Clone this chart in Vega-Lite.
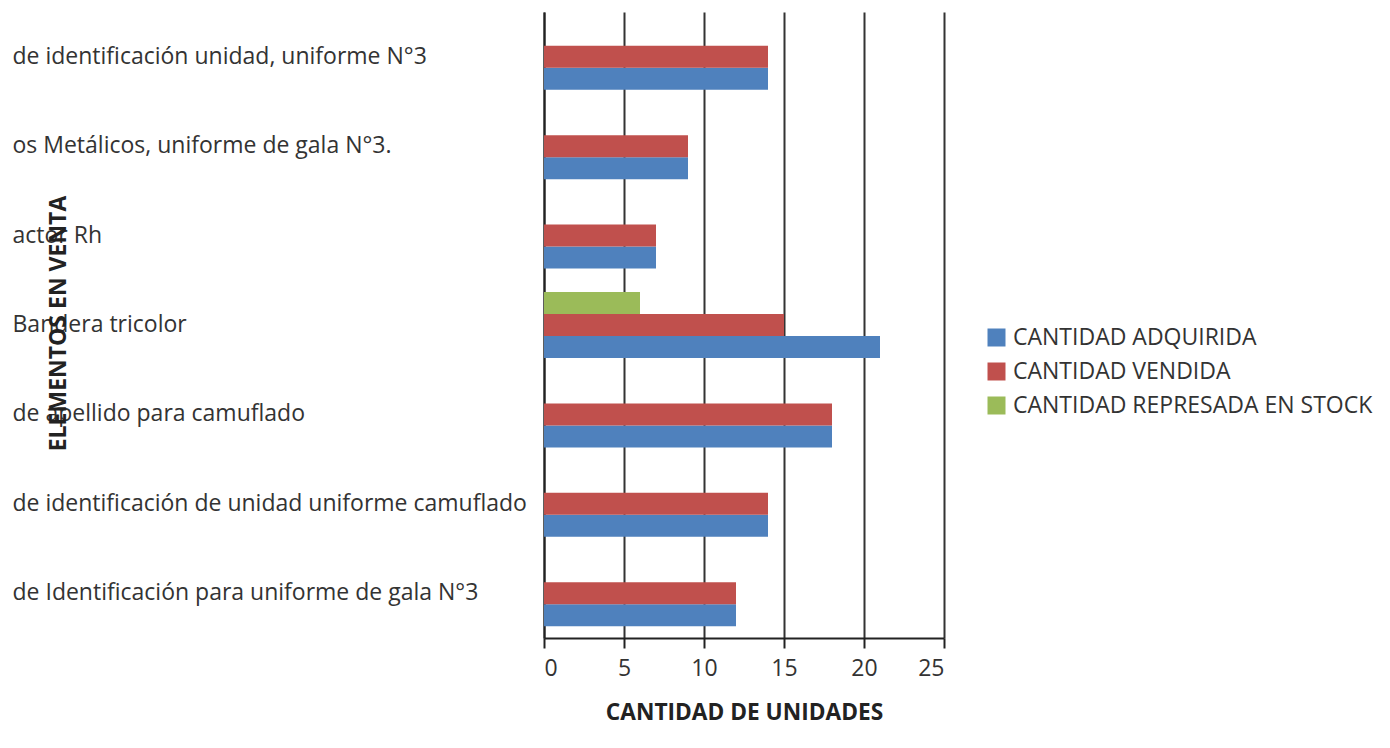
{
  "$schema": "https://vega.github.io/schema/vega-lite/v6.json",
  "width": 400,
  "height": 626,
  "autosize": {"type": "none"},
  "padding": {"left": 544, "top": 12, "right": 446, "bottom": 110},
  "background": "white",
  "config": {"view": {"stroke": null}, "font": "Open Sans"},
  "data": {
    "values": [
      {"elemento": "de identificación unidad, uniforme N°3", "serie": "CANTIDAD ADQUIRIDA", "cantidad": 14},
      {"elemento": "de identificación unidad, uniforme N°3", "serie": "CANTIDAD VENDIDA", "cantidad": 14},
      {"elemento": "os Metálicos, uniforme de gala N°3.", "serie": "CANTIDAD ADQUIRIDA", "cantidad": 9},
      {"elemento": "os Metálicos, uniforme de gala N°3.", "serie": "CANTIDAD VENDIDA", "cantidad": 9},
      {"elemento": "actor Rh", "serie": "CANTIDAD ADQUIRIDA", "cantidad": 7},
      {"elemento": "actor Rh", "serie": "CANTIDAD VENDIDA", "cantidad": 7},
      {"elemento": "Bandera tricolor", "serie": "CANTIDAD ADQUIRIDA", "cantidad": 21},
      {"elemento": "Bandera tricolor", "serie": "CANTIDAD VENDIDA", "cantidad": 15},
      {"elemento": "Bandera tricolor", "serie": "CANTIDAD REPRESADA EN STOCK", "cantidad": 6},
      {"elemento": "de apellido para camuflado", "serie": "CANTIDAD ADQUIRIDA", "cantidad": 18},
      {"elemento": "de apellido para camuflado", "serie": "CANTIDAD VENDIDA", "cantidad": 18},
      {"elemento": "de identificación de unidad uniforme camuflado", "serie": "CANTIDAD ADQUIRIDA", "cantidad": 14},
      {"elemento": "de identificación de unidad uniforme camuflado", "serie": "CANTIDAD VENDIDA", "cantidad": 14},
      {"elemento": "de Identificación para uniforme de gala N°3", "serie": "CANTIDAD ADQUIRIDA", "cantidad": 12},
      {"elemento": "de Identificación para uniforme de gala N°3", "serie": "CANTIDAD VENDIDA", "cantidad": 12}
    ]
  },
  "mark": {"type": "bar"},
  "encoding": {
    "y": {
      "field": "elemento",
      "type": "nominal",
      "sort": [
        "de identificación unidad, uniforme N°3",
        "os Metálicos, uniforme de gala N°3.",
        "actor Rh",
        "Bandera tricolor",
        "de apellido para camuflado",
        "de identificación de unidad uniforme camuflado",
        "de Identificación para uniforme de gala N°3"
      ],
      "scale": {"paddingInner": 0.262, "paddingOuter": 0.131},
      "axis": {
        "orient": "left",
        "ticks": false,
        "tickSize": 0,
        "domain": true,
        "domainColor": "#222222",
        "domainWidth": 2,
        "labelAlign": "left",
        "labelBaseline": "middle",
        "labelPadding": 532,
        "labelLimit": 0,
        "labelFontSize": 23,
        "labelColor": "#333333",
        "labelOverlap": false,
        "title": "ELEMENTOS EN VENTA",
        "titleFontSize": 23,
        "titleFontWeight": "bold",
        "titleColor": "#222222",
        "titleX": -486,
        "titleY": 311,
        "titleAngle": -90,
        "titleAlign": "center",
        "titleBaseline": "middle"
      }
    },
    "x": {
      "field": "cantidad",
      "type": "quantitative",
      "scale": {"domain": [0, 25], "nice": false},
      "axis": {
        "values": [0, 5, 10, 15, 20, 25],
        "grid": true,
        "gridColor": "#333333",
        "gridWidth": 2,
        "domain": true,
        "domainColor": "#222222",
        "domainWidth": 2,
        "ticks": true,
        "tickSize": 10,
        "tickWidth": 2,
        "tickColor": "#222222",
        "labelFontSize": 23,
        "labelColor": "#333333",
        "labelPadding": 9,
        "title": "CANTIDAD DE UNIDADES",
        "titleFontSize": 22.7,
        "titleFontWeight": "bold",
        "titleColor": "#222222",
        "titlePadding": 21
      }
    },
    "yOffset": {
      "field": "serie",
      "type": "nominal",
      "sort": ["CANTIDAD REPRESADA EN STOCK", "CANTIDAD VENDIDA", "CANTIDAD ADQUIRIDA"],
      "scale": {"paddingInner": 0, "paddingOuter": 0}
    },
    "color": {
      "field": "serie",
      "type": "nominal",
      "scale": {
        "domain": ["CANTIDAD ADQUIRIDA", "CANTIDAD VENDIDA", "CANTIDAD REPRESADA EN STOCK"],
        "range": ["#4F81BD", "#C0504D", "#9BBB59"]
      },
      "legend": {
        "orient": "none",
        "legendX": 441,
        "legendY": 314,
        "title": null,
        "padding": 0,
        "symbolType": "square",
        "symbolSize": 324,
        "symbolStrokeWidth": 0,
        "labelFontSize": 23,
        "labelColor": "#333333",
        "labelOffset": 5,
        "labelLimit": 0,
        "rowPadding": 10
      }
    }
  }
}
